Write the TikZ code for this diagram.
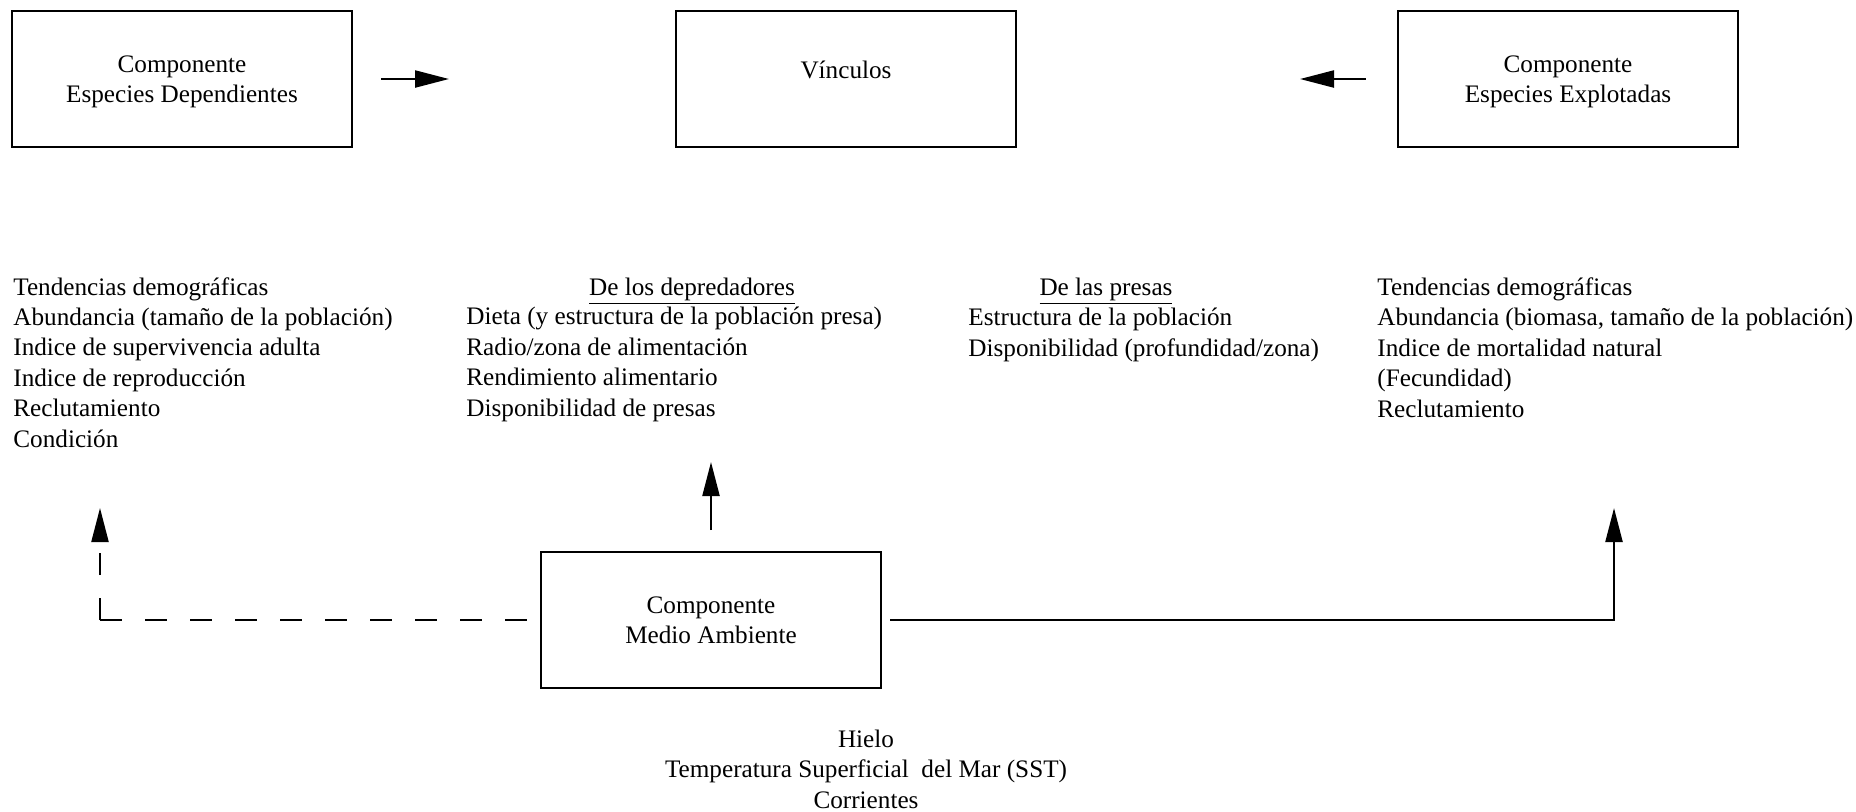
\documentclass[tikz,border=0pt]{standalone}
\usepackage{fontspec}
\setmainfont{Liberation Serif}
\usetikzlibrary{arrows.meta,positioning}

\tikzset{
  txt/.style={font=\fontsize{12.6}{15.2}\selectfont,inner sep=0pt},
  comp/.style={txt,draw,line width=1.4pt,minimum width=170pt,minimum height=68pt,align=center,text depth=0pt},
  lista/.style={txt,align=left,anchor=base west},
  conn/.style={line width=1.1pt,-{Triangle[length=17pt,width=8.5pt]}},
  envdash/.style={dash pattern=on 11pt off 11.5pt},
}

\begin{document}
\begin{tikzpicture}[x=0.5pt,y=-0.5pt]
\useasboundingbox (0,0) rectangle (1856,811);

% componentes
\node[comp] (dep) at (182,79) {Componente\\Especies Dependientes};
\node[comp] (vinc) at (846,79) {};
\node[txt] (vinctxt) at ([yshift=4.3pt]vinc.center) {Vínculos};
\node[comp] (expl) at (1568,79) {Componente\\Especies Explotadas};
\node[comp] (medio) at (711,620) {Componente\\Medio Ambiente};

% listas (base = ultima linea)
\node[lista] (depl) at (13,447) {Tendencias demográficas\\Abundancia (tamaño de la población)\\Indice de supervivencia adulta\\Indice de reproducción\\Reclutamiento\\Condición};
\node[txt,anchor=base] (deprh) at (692,295) {\underline{De los depredadores}};
\node[lista] (depr) at (466,416) {Dieta (y estructura de la población presa)\\Radio/zona de alimentación\\Rendimiento alimentario\\Disponibilidad de presas};
\node[txt,anchor=base] (presh) at (1106,295) {\underline{De las presas}};
\node[lista] (pres) at (968,356) {Estructura de la población\\Disponibilidad (profundidad/zona)};
\node[lista] (expll) at (1377,417) {Tendencias demográficas\\Abundancia (biomasa, tamaño de la población)\\Indice de mortalidad natural\\(Fecundidad)\\Reclutamiento};

\node[txt,align=center,anchor=base] (amb) at (866,808) {Hielo\\Temperatura Superficial~ del Mar (SST)\\Corrientes};

\coordinate (envL) at (100,620);
\coordinate (depin) at (100,508);
\coordinate (envR) at (1614,620);
\coordinate (explin) at (1614,508);

% vinculos
\draw[conn] ([xshift=13.8pt]dep.east) -- ([xshift=-112.8pt]vinc.west);
\draw[conn] ([xshift=-15.5pt]expl.west) -- ([xshift=141.3pt]vinc.east);

% medio ambiente
\draw[conn] ([yshift=10.3pt]medio.north) -- ([yshift=44.3pt]medio.north);
\draw[line width=1.1pt,envdash] (envL) -- ([xshift=-6.3pt]medio.west);
\draw[conn,envdash] (envL) -- (depin);
\draw[conn] ([xshift=3.8pt]medio.east) -- (envR) -- (explin);

\end{tikzpicture}
\end{document}
